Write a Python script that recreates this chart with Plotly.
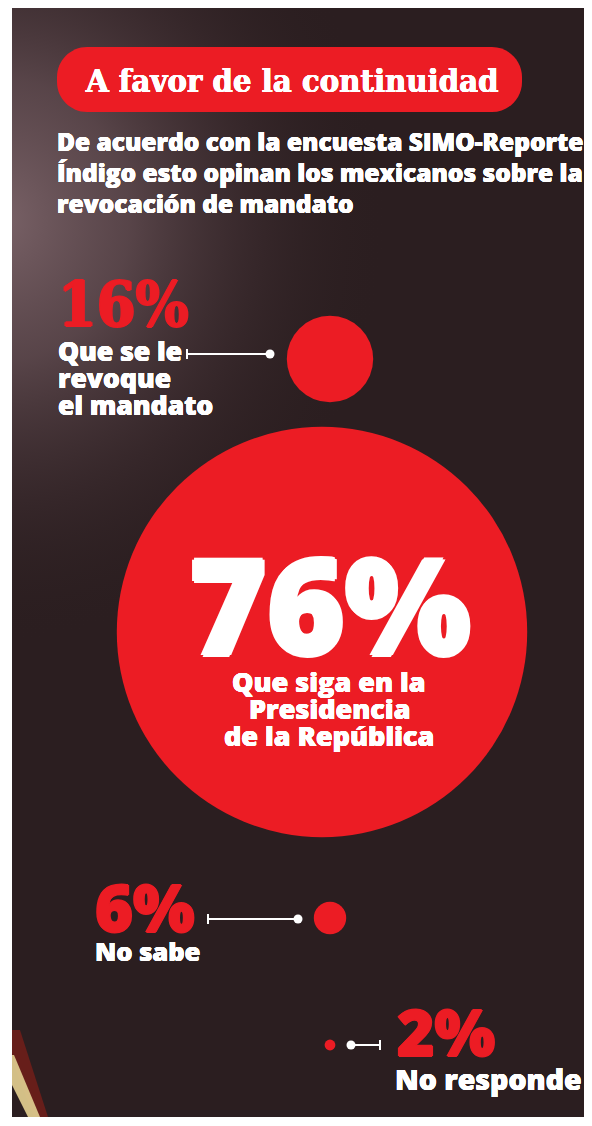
import plotly.graph_objects as go

# ---------------- data ----------------
categories = ["Que se le revoque el mandato",
              "Que siga en la Presidencia de la República",
              "No sabe",
              "No responde"]
values = [16, 76, 6, 2]
value_labels = ["16%", "76%", "6%", "2%"]
label_lines = [["Que se le", "revoque", "el mandato"],
               ["Que siga en la", "Presidencia", "de la República"],
               ["No sabe"],
               ["No responde"]]
title_text = "A favor de la continuidad"
subtitle_lines = ["De acuerdo con la encuesta SIMO-Reporte",
                  "Índigo esto opinan los mexicanos sobre la",
                  "revocación de mandato"]

# ---------------- layout / style ----------------
PAGE_W, PAGE_H = 592, 1126
OFF = 8                     # default margin of the html body
BOTTOM = 1118               # keep the page from scrolling
RED = "#ec1c24"
BG = "#2b1e20"
WHITE = "#ffffff"
SANS = "Open Sans"
SERIF = "DejaVu Serif Condensed, DejaVu Serif"
PX_PER_PCT = 5.4            # bubble diameter in px per percentage point

centers_x = [330, 322, 330, 330]
centers_y = [359, 632, 918, 1045]

fig = go.Figure()

# background panel
shapes = [dict(type="rect", x0=12, x1=PAGE_W + 2, y0=5, y1=1117, xref="x", yref="y",
               fillcolor=BG, line_width=0, layer="below")]

# lighter texture in the upper-left (radial gradient overlay)
fig.add_trace(go.Scatter(
    x=[-430, 430, 430, -430, -430], y=[-250, -250, 690, 690, -250], mode="lines",
    fill="toself", line=dict(width=0), hoverinfo="skip", showlegend=False,
    fillgradient=dict(type="radial",
                      colorscale=[[0, "rgba(140,114,120,0.80)"],
                                  [0.3, "rgba(118,94,100,0.60)"],
                                  [0.6, "rgba(80,60,65,0.30)"],
                                  [0.9, "rgba(43,30,32,0)"],
                                  [1, "rgba(43,30,32,0)"]])))
# warm streak at lower-left corner
fig.add_trace(go.Scatter(
    x=[12, 20, 48, 34, 12], y=[1030, 1030, 1117, 1117, 1060], mode="lines",
    fill="toself", fillcolor="rgba(110,30,25,0.9)", line=dict(width=0),
    hoverinfo="skip", showlegend=False))
fig.add_trace(go.Scatter(
    x=[12, 14, 40, 28, 12], y=[1055, 1055, 1117, 1117, 1085], mode="lines",
    fill="toself", fillcolor="rgba(220,200,140,0.95)", line=dict(width=0),
    hoverinfo="skip", showlegend=False))

# white page border on the left / top
shapes.append(dict(type="rect", x0=0, x1=12, y0=0, y1=PAGE_H, xref="x", yref="y",
                   fillcolor="white", line_width=0, layer="above"))
shapes.append(dict(type="rect", x0=0, x1=PAGE_W + 2, y0=0, y1=5, xref="x", yref="y",
                   fillcolor="white", line_width=0, layer="above"))

# title pill (rounded rectangle)
px0, px1, py0, py1, r = 57, 522, 47, 112, 30
k = 0.55 * r
pill = (f"M {px0+r},{py0} L {px1-r},{py0} "
        f"C {px1-r+k},{py0} {px1},{py0+r-k} {px1},{py0+r} "
        f"L {px1},{py1-r} "
        f"C {px1},{py1-r+k} {px1-r+k},{py1} {px1-r},{py1} "
        f"L {px0+r},{py1} "
        f"C {px0+r-k},{py1} {px0},{py1-r+k} {px0},{py1-r} "
        f"L {px0},{py0+r} "
        f"C {px0},{py0+r-k} {px0+r-k},{py0} {px0+r},{py0} Z")
shapes.append(dict(type="path", path=pill, xref="x", yref="y",
                   fillcolor=RED, line_width=0, layer="above"))

# bubbles (diameter proportional to value)
fig.add_trace(go.Scatter(
    x=centers_x, y=centers_y, mode="markers", text=categories,
    marker=dict(size=[v * PX_PER_PCT for v in values], sizemode="diameter",
                color=RED, opacity=1, line=dict(width=0)),
    hoverinfo="text", showlegend=False))

# leader lines: (x_tick, x_dot, y)
leaders = [(187, 270, 354), (208, 298, 919), (380, 351, 1045)]
for xt, xd, yl in leaders:
    shapes.append(dict(type="line", x0=xt, x1=xd, y0=yl, y1=yl, xref="x", yref="y",
                       line=dict(color=WHITE, width=2)))
    shapes.append(dict(type="line", x0=xt, x1=xt, y0=yl - 5, y1=yl + 5, xref="x", yref="y",
                       line=dict(color=WHITE, width=2)))
    shapes.append(dict(type="circle", x0=xd - 4.5, x1=xd + 4.5, y0=yl - 4.5, y1=yl + 4.5,
                       xref="x", yref="y", fillcolor=WHITE, line_width=0))

annotations = []


def txt(x, y, s, size, color=WHITE, family=SANS, weight=800, xanchor="left", fat=0.0):
    font = dict(family=family, size=size, color=color, weight=weight)
    if fat:
        font["shadow"] = (f"{fat}px 0 0 {color}, -{fat}px 0 0 {color}, "
                          f"0 {fat}px 0 {color}, 0 -{fat}px 0 {color}")
    annotations.append(dict(x=x, y=y, xref="x", yref="y", text=s, showarrow=False,
                            xanchor=xanchor, yanchor="middle", borderpad=0, font=font))


# title + subtitle
txt(292, 80, title_text, 32.5, family=SERIF, weight=700, xanchor="center", fat=0.4)
for i, line in enumerate(subtitle_lines):
    txt(56, 141 + i * 31, line, 24.5, fat=0.3)

# value labels
txt(57, 304, value_labels[0], 62, color=RED, family=SERIF, weight=700, fat=1.2)
txt(330, 603, value_labels[1], 133, color=WHITE, weight=800, xanchor="center", fat=2)
txt(94, 907, value_labels[2], 65, color=RED, fat=1)
txt(396, 1031, value_labels[3], 64, color=RED, fat=1)

# category labels
for i, line in enumerate(label_lines[0]):
    txt(57, 351 + i * 27, line, 26.5, fat=0.3)
for i, line in enumerate(label_lines[1]):
    txt(329, 681 + i * 27, line, 27, xanchor="center", fat=0.3)
txt(94, 951, label_lines[2][0], 25.5, fat=0.3)
txt(394, 1079, label_lines[3][0], 28.5, fat=0.3)

fig.update_layout(
    width=PAGE_W - OFF, height=BOTTOM - OFF, autosize=False,
    margin=dict(l=0, r=0, t=0, b=0),
    paper_bgcolor="white", plot_bgcolor="white",
    xaxis=dict(range=[OFF, PAGE_W], visible=False, fixedrange=True),
    yaxis=dict(range=[BOTTOM, OFF], visible=False, fixedrange=True),
    shapes=shapes, annotations=annotations, showlegend=False,
)

fig.write_html("out.html", config={"displayModeBar": False})
